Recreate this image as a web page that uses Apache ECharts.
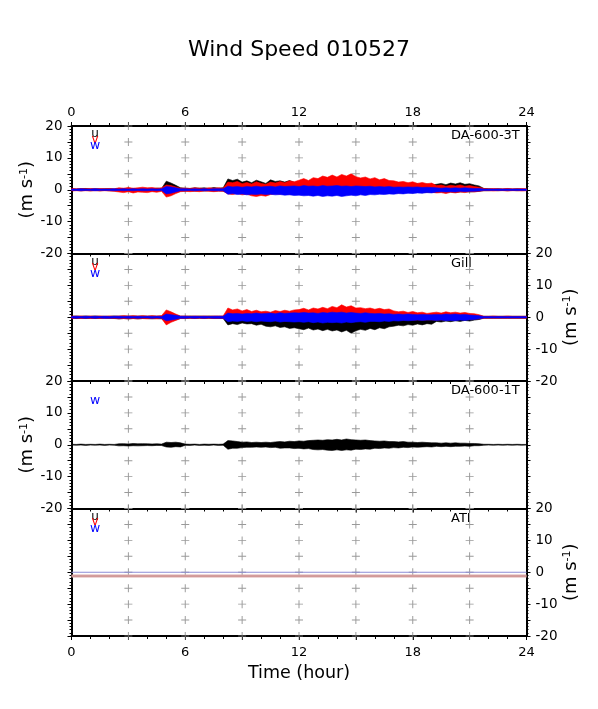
<!DOCTYPE html>
<html><head><meta charset="utf-8">
<script src="https://cdn.jsdelivr.net/npm/echarts@6/dist/echarts.min.js"></script>
<style>html,body{margin:0;padding:0;background:#fff}#c{width:598px;height:709px}</style>
</head><body><div id="c"></div>
<script>
const FONT = 'DejaVu Sans';
const TITLE = 'Wind Speed 010527';
const X_NAME = 'Time (hour)';
const PANEL_NAMES = ['DA-600-3T', 'Gill', 'DA-600-1T', 'ATI'];
const SAMPLE_STEP = 0.25; // hours between envelope samples (0..24)

// Panel 1: DA-600-3T  (upper / lower envelopes, m/s)
const u1Hi = [0.3,0.2,0.3,0.4,0.2,0.3,0.2,0.3, 0.3,0.2,0.4,0.3,0.5,0.3,0.4,0.3, 0.4,0.3,0.5,0.4,2.7,2.1,1.4,0.6, 0.5,0.4,0.6,0.5,0.6,0.4,0.7,0.5,
 0.6,3.4,2.9,3.3,2.4,2.8,2.2,3.0, 2.5,2.0,3.1,2.6,2.8,2.4,2.9,2.3, 2.4,2.7,2.2,2.9,2.5,3.0,2.6,3.2, 2.8,3.3,2.7,3.0,2.5,2.8,2.4,2.6,
 2.3,2.5,2.1,2.3,1.9,2.2,1.8,2.0, 1.7,1.9,1.6,1.8,1.5,1.7,2.0,1.6, 2.1,1.8,2.2,1.7,1.9,1.5,1.2,0.4, 0.3,0.2,0.3,0.2,0.3,0.2,0.3,0.2, 0.2];
const u1Lo = [-0.3,-0.2,-0.3,-0.2,-0.3,-0.2,-0.3,-0.2, -0.3,-0.3,-0.4,-0.3,-0.4,-0.3,-0.4,-0.3, -0.4,-0.3,-0.4,-0.3,-1.2,-1.0,-0.8,-0.4, -0.4,-0.3,-0.4,-0.3,-0.4,-0.3,-0.4,-0.3,
 -0.4,-1.0,-0.9,-1.1,-0.8,-1.0,-0.9,-1.1, -1.0,-1.2,-0.9,-1.1,-1.0,-1.2,-1.1,-1.0, -1.2,-1.1,-1.3,-1.0,-1.2,-1.1,-1.3,-1.2, -1.1,-1.3,-1.2,-1.0,-1.2,-1.1,-1.0,-1.2,
 -1.0,-1.1,-0.9,-1.0,-0.9,-1.0,-0.8,-0.9, -0.9,-0.8,-0.9,-0.8,-0.7,-0.8,-0.7,-0.8, -0.7,-0.8,-0.7,-0.6,-0.7,-0.6,-0.5,-0.3, -0.3,-0.2,-0.3,-0.2,-0.3,-0.2,-0.3,-0.2, -0.2];
const v1Hi = [0.4,0.3,0.4,0.3,0.4,0.3,0.4,0.3, 0.4,0.3,0.6,0.5,0.7,0.5,0.6,0.8, 0.6,0.7,0.5,0.6,1.5,1.3,0.9,0.5, 0.5,0.4,0.6,0.5,0.4,0.6,0.5,0.6,
 0.5,2.4,2.2,2.6,1.9,2.3,1.8,2.5, 2.0,1.7,2.4,2.1,2.6,2.2,2.8,2.5, 3.0,3.5,2.9,3.8,3.5,4.3,3.9,4.6, 4.0,4.8,4.3,5.0,4.1,3.7,4.0,3.4,
 3.8,3.1,3.5,2.9,2.8,2.4,2.6,2.2, 2.5,2.0,2.3,1.9,2.1,1.3,1.5,1.1, 1.4,1.2,1.5,1.1,1.3,1.0,0.8,0.4, 0.3,0.4,0.3,0.3,0.4,0.3,0.3,0.4, 0.3];
const v1Lo = [-0.4,-0.3,-0.4,-0.3,-0.4,-0.3,-0.4,-0.3, -0.4,-0.5,-0.7,-0.9,-0.6,-1.0,-0.7,-0.8, -0.9,-0.6,-0.8,-0.5,-2.3,-1.9,-1.2,-0.6, -0.5,-0.6,-0.5,-0.6,-0.4,-0.5,-0.6,-0.5,
 -0.5,-1.3,-1.5,-1.2,-1.6,-1.4,-1.9,-2.1, -1.8,-2.0,-1.5,-1.3,-1.4,-1.2,-1.5,-1.3, -1.4,-1.3,-1.5,-1.2,-1.4,-1.3,-1.5,-1.4, -1.3,-1.5,-1.2,-1.4,-1.3,-1.2,-1.4,-1.1,
 -1.2,-1.0,-1.1,-1.0,-0.9,-1.0,-0.9,-0.8, -0.9,-0.8,-0.9,-0.7,-0.8,-1.0,-0.9,-1.2, -0.8,-1.0,-0.7,-0.9,-0.6,-0.7,-0.5,-0.3, -0.3,-0.4,-0.3,-0.3,-0.4,-0.3,-0.3,-0.4, -0.3];
const w1Hi = [0.2,0.2,0.3,0.2,0.2,0.3,0.2,0.2, 0.2,0.3,0.2,0.3,0.2,0.3,0.2,0.3, 0.2,0.3,0.2,0.3,1.0,0.9,0.6,0.3, 0.3,0.2,0.3,0.2,0.3,0.2,0.3,0.3,
 0.3,1.1,0.9,1.0,0.8,1.0,0.9,1.1, 0.9,1.0,1.1,0.9,1.2,1.0,1.1,1.2, 1.0,1.3,1.1,1.2,1.0,1.3,1.1,1.2, 1.3,1.1,1.2,1.0,1.2,1.1,1.0,1.1,
 0.9,1.0,0.9,1.0,0.8,0.9,0.8,0.9, 0.8,0.9,0.7,0.8,0.7,0.6,0.5,0.6, 0.5,0.6,0.5,0.6,0.5,0.4,0.4,0.2, 0.2,0.2,0.2,0.2,0.2,0.2,0.2,0.2, 0.2];
const w1Lo = [-0.2,-0.2,-0.3,-0.2,-0.2,-0.3,-0.2,-0.2, -0.2,-0.3,-0.2,-0.3,-0.2,-0.3,-0.2,-0.3, -0.3,-0.2,-0.3,-0.2,-1.3,-1.1,-0.7,-0.3, -0.3,-0.2,-0.3,-0.2,-0.3,-0.2,-0.3,-0.3,
 -0.3,-1.4,-1.2,-1.5,-1.3,-1.6,-1.4,-1.5, -1.3,-1.5,-1.4,-1.6,-1.5,-1.7,-1.6,-1.8, -1.7,-1.9,-1.8,-2.0,-1.8,-2.1,-1.9,-2.0, -1.8,-2.1,-1.9,-1.7,-1.9,-1.6,-1.8,-1.5,
 -1.6,-1.4,-1.5,-1.3,-1.4,-1.2,-1.3,-1.1, -1.2,-1.0,-1.1,-0.9,-1.0,-0.7,-0.6,-0.7, -0.6,-0.7,-0.5,-0.6,-0.5,-0.5,-0.4,-0.2, -0.2,-0.2,-0.2,-0.2,-0.2,-0.2,-0.2,-0.2, -0.2];

// Panel 2: Gill
const u2Hi = [0.3,0.4,0.3,0.4,0.3,0.4,0.3,0.3, 0.3,0.4,0.3,0.4,0.3,0.4,0.3,0.4, 0.3,0.4,0.3,0.4,1.0,0.8,0.6,0.3, 0.3,0.4,0.3,0.4,0.3,0.4,0.3,0.3,
 0.3,1.0,0.8,0.9,0.7,0.8,0.7,0.9, 0.8,0.7,0.9,0.8,0.7,0.8,0.9,0.7, 0.8,0.9,0.7,0.8,0.9,0.8,0.7,0.9, 0.8,0.9,0.8,0.7,0.8,0.9,0.7,0.8,
 0.7,0.8,0.7,0.8,0.6,0.7,0.6,0.7, 0.7,0.8,0.6,0.7,0.6,0.6,0.5,0.6, 0.5,0.6,0.5,0.5,0.4,0.4,0.4,0.3, 0.3,0.3,0.3,0.3,0.3,0.3,0.3,0.3, 0.3];
const u2Lo = [-0.3,-0.4,-0.3,-0.4,-0.3,-0.4,-0.3,-0.3, -0.3,-0.4,-0.5,-0.4,-0.5,-0.4,-0.5,-0.4, -0.4,-0.5,-0.4,-0.5,-1.5,-1.0,-0.8,-0.4, -0.4,-0.3,-0.4,-0.3,-0.4,-0.3,-0.4,-0.4,
 -0.4,-2.4,-2.0,-2.3,-1.8,-2.1,-2.0,-2.5, -2.2,-2.8,-3.0,-2.7,-3.2,-3.0,-3.5,-3.3, -3.6,-3.9,-3.4,-4.0,-3.7,-4.2,-3.8,-4.3, -4.0,-4.6,-4.1,-5.0,-4.2,-3.8,-4.1,-3.5,
 -3.9,-3.3,-3.6,-3.0,-2.8,-2.5,-2.7,-2.3, -2.5,-2.1,-2.4,-2.0,-2.2,-1.3,-1.5,-1.2, -1.4,-1.1,-1.3,-1.0,-1.2,-0.9,-0.7,-0.3, -0.3,-0.3,-0.3,-0.3,-0.3,-0.3,-0.3,-0.3, -0.3];
const v2Hi = [0.4,0.3,0.4,0.3,0.4,0.3,0.4,0.3, 0.4,0.3,0.4,0.5,0.4,0.5,0.4,0.5, 0.4,0.5,0.4,0.5,2.3,1.7,1.0,0.4, 0.4,0.3,0.4,0.3,0.4,0.3,0.4,0.4,
 0.4,2.9,2.3,2.6,2.0,2.4,1.8,2.2, 1.7,1.9,1.6,2.1,1.8,2.2,1.9,2.3, 2.4,2.8,2.3,2.9,2.6,3.1,2.7,3.4, 3.0,3.9,3.2,3.6,2.9,3.0,2.7,2.9,
 2.5,2.8,2.4,2.6,2.0,1.7,1.9,1.5, 1.8,1.4,1.6,1.2,1.4,1.6,1.3,1.7, 1.4,1.6,1.3,1.5,1.2,1.1,0.8,0.3, 0.3,0.4,0.3,0.3,0.4,0.3,0.3,0.3, 0.3];
const v2Lo = [-0.4,-0.3,-0.4,-0.3,-0.4,-0.3,-0.4,-0.3, -0.4,-0.3,-0.5,-0.4,-0.5,-0.4,-0.5,-0.4, -0.5,-0.4,-0.5,-0.4,-2.4,-1.6,-1.0,-0.4, -0.4,-0.3,-0.4,-0.3,-0.4,-0.3,-0.4,-0.4,
 -0.4,-1.0,-0.9,-1.1,-0.9,-1.0,-0.9,-1.0, -1.1,-1.0,-0.9,-1.1,-1.0,-1.2,-1.0,-1.1, -1.2,-1.1,-1.0,-1.2,-1.1,-1.3,-1.1,-1.2, -1.1,-1.3,-1.2,-1.1,-1.2,-1.0,-1.1,-1.0,
 -1.0,-0.9,-1.0,-0.9,-0.9,-0.8,-0.9,-0.8, -0.9,-0.8,-0.9,-0.8,-0.8,-0.9,-0.8,-0.9, -0.8,-0.9,-0.7,-0.8,-0.6,-0.6,-0.5,-0.3, -0.3,-0.3,-0.3,-0.3,-0.3,-0.3,-0.3,-0.3, -0.3];
const w2Hi = [0.2,0.3,0.2,0.3,0.2,0.3,0.2,0.3, 0.2,0.3,0.3,0.2,0.3,0.2,0.3,0.2, 0.3,0.2,0.3,0.2,1.0,0.8,0.6,0.3, 0.3,0.2,0.3,0.2,0.3,0.2,0.3,0.3,
 0.3,1.3,1.1,1.2,1.0,1.2,1.1,1.3, 1.1,1.2,1.3,1.1,1.4,1.2,1.3,1.4, 1.3,1.5,1.3,1.4,1.2,1.5,1.3,1.6, 1.4,1.6,1.3,1.5,1.3,1.2,1.4,1.2,
 1.1,1.2,1.0,1.1,0.9,1.0,0.9,1.0, 0.9,0.8,0.9,0.8,0.8,0.9,0.8,1.0, 0.9,1.0,0.8,0.9,0.7,0.6,0.5,0.2, 0.2,0.2,0.2,0.2,0.2,0.2,0.2,0.2, 0.2];
const w2Lo = [-0.2,-0.3,-0.2,-0.3,-0.2,-0.3,-0.2,-0.3, -0.3,-0.2,-0.3,-0.2,-0.3,-0.2,-0.3,-0.2, -0.2,-0.3,-0.2,-0.3,-1.1,-0.9,-0.6,-0.3, -0.3,-0.2,-0.3,-0.2,-0.3,-0.2,-0.3,-0.3,
 -0.3,-1.4,-1.2,-1.3,-1.1,-1.3,-1.2,-1.4, -1.2,-1.3,-1.4,-1.2,-1.5,-1.3,-1.4,-1.5, -1.4,-1.6,-1.4,-1.7,-1.5,-1.8,-1.6,-1.7, -1.6,-1.8,-1.5,-1.7,-1.5,-1.4,-1.6,-1.3,
 -1.3,-1.4,-1.2,-1.3,-1.1,-1.2,-1.0,-1.1, -1.0,-0.9,-1.0,-0.9,-0.9,-1.0,-0.9,-1.1, -1.0,-1.1,-0.9,-1.0,-0.8,-0.7,-0.5,-0.2, -0.2,-0.2,-0.2,-0.2,-0.2,-0.2,-0.2,-0.2, -0.2];

// Panel 3: DA-600-1T
const u3Hi = [0.15,0.1,0.2,0.1,0.15,0.1,0.2,0.1, 0.15,0.1,0.3,0.35,0.25,0.4,0.3,0.35, 0.3,0.25,0.3,0.2,0.8,0.7,0.8,0.6, 0.2,0.15,0.2,0.1,0.2,0.15,0.2,0.15,
 0.2,1.3,1.2,1.0,0.8,0.9,0.7,0.8, 0.7,0.8,0.7,0.9,1.0,0.9,1.1,1.0, 1.2,1.1,1.3,1.4,1.5,1.4,1.6,1.5, 1.7,1.5,1.8,1.6,1.5,1.4,1.5,1.3,
 1.2,1.1,1.2,1.0,1.0,0.9,1.0,0.8, 0.8,0.7,0.8,0.7,0.6,0.6,0.5,0.6, 0.5,0.6,0.5,0.5,0.4,0.4,0.3,0.15, 0.15,0.1,0.15,0.1,0.15,0.1,0.15,0.1, 0.1];
const u3Lo = [-0.1,-0.15,-0.1,-0.2,-0.1,-0.15,-0.1,-0.2, -0.1,-0.15,-0.35,-0.3,-0.4,-0.3,-0.35,-0.3, -0.25,-0.3,-0.2,-0.25,-0.7,-0.8,-0.6,-0.7, -0.15,-0.2,-0.1,-0.2,-0.15,-0.2,-0.1,-0.2,
 -0.15,-1.4,-1.1,-1.1,-0.9,-0.8,-0.8,-0.7, -0.8,-0.7,-0.9,-0.8,-1.1,-1.0,-1.0,-1.2, -1.1,-1.3,-1.2,-1.5,-1.6,-1.5,-1.7,-1.8, -1.6,-1.8,-1.6,-1.7,-1.4,-1.5,-1.3,-1.4,
 -1.1,-1.2,-1.0,-1.1,-0.9,-1.0,-0.8,-0.9, -0.7,-0.8,-0.7,-0.6,-0.7,-0.5,-0.6,-0.5, -0.6,-0.5,-0.5,-0.4,-0.5,-0.3,-0.3,-0.15, -0.1,-0.15,-0.1,-0.15,-0.1,-0.15,-0.1,-0.15, -0.1];

// Panel 4: ATI (flat traces)
const v4 = -1.2;
const w4 = 0.0;

const hours = u1Hi.map((_, i) => i * SAMPLE_STEP);

const TOPS = [126, 253.5, 381, 508.5];
const H = 127.5;
const LEFT = 71.5, RIGHT = 71.5;

const grids = TOPS.map(t => ({ left: LEFT, right: RIGHT, top: t, height: H }));

function xAx(gi, pos, showLabel) {
  return {
    type: 'value', gridIndex: gi, position: pos, min: 0, max: 24, interval: 3,
    axisLine: { onZero: false, lineStyle: { color: '#000', width: 2 } },
    axisTick: { show: true, length: 4, lineStyle: { color: '#000', width: 1 } },
    minorTick: { show: true, splitNumber: 3, length: 3, lineStyle: { color: '#000', width: 1 } },
    splitLine: { show: false }, minorSplitLine: { show: false },
    axisLabel: { show: showLabel, margin: pos === 'top' ? 7 : 10, fontSize: 13, fontFamily: FONT, color: '#000',
      formatter: v => (v % 6 === 0 ? String(v) : '') }
  };
}
function yAx(gi, pos, showLabel) {
  return {
    type: 'value', gridIndex: gi, position: pos, min: -20, max: 20, interval: 5,
    axisLine: { onZero: false, lineStyle: { color: '#000', width: 2 } },
    axisTick: { show: true, length: 4, lineStyle: { color: '#000', width: 1 } },
    minorTick: { show: true, splitNumber: 5, length: 2, lineStyle: { color: '#000', width: 1 } },
    splitLine: { show: false }, minorSplitLine: { show: false },
    axisLabel: { show: showLabel, margin: 9, fontSize: 13.5, fontFamily: FONT, color: '#000',
      showMinLabel: true, showMaxLabel: true,
      formatter: v => (v % 10 === 0 ? String(v) : '') }
  };
}

const xAxes = [xAx(0, 'bottom', false), xAx(1, 'bottom', false), xAx(2, 'bottom', false), xAx(3, 'bottom', true), xAx(0, 'top', true)];
const yAxes = [yAx(0, 'left', true), yAx(1, 'left', false), yAx(2, 'left', true), yAx(3, 'left', false),
               yAx(0, 'right', false), yAx(1, 'right', true), yAx(2, 'right', false), yAx(3, 'right', true)];

function band(gi, hi, lo, color) {
  return {
    type: 'custom', xAxisIndex: gi, yAxisIndex: gi, clip: true, z: 3, silent: true,
    data: [[0, 0]],
    renderItem: function (params, api) {
      const pts = [];
      for (let i = 0; i < hours.length; i++) pts.push(api.coord([hours[i], hi[i]]));
      for (let i = hours.length - 1; i >= 0; i--) pts.push(api.coord([hours[i], lo[i]]));
      return { type: 'polygon', shape: { points: pts }, style: { fill: color, stroke: color, lineWidth: 0.6 } };
    }
  };
}

function crosses(gi) {
  const pts = [];
  for (let x = 3; x <= 21; x += 3) for (let y = -20; y <= 20; y += 5) pts.push([x, y]);
  return {
    type: 'scatter', xAxisIndex: gi, yAxisIndex: gi, z: 1, silent: true, data: pts,
    symbol: 'path://M4.4,0H5.6V10H4.4ZM0,4.4H10V5.6H0Z', symbolSize: 8,
    itemStyle: { color: '#808080' }
  };
}

function flat(gi, val, color, width) {
  return {
    type: 'line', xAxisIndex: gi, yAxisIndex: gi, z: 3, silent: true, symbol: 'none',
    data: [[0, val], [24, val]], lineStyle: { color: color, width: width }
  };
}

const series = [
  crosses(0), crosses(1), crosses(2), crosses(3),
  band(0, u1Hi, u1Lo, '#000000'), band(0, v1Hi, v1Lo, '#ff0000'), band(0, w1Hi, w1Lo, '#0000ff'),
  band(1, u2Hi, u2Lo, '#000000'), band(1, v2Hi, v2Lo, '#ff0000'), band(1, w2Hi, w2Lo, '#0000ff'),
  band(2, u3Hi, u3Lo, '#000000'),
  flat(3, v4, '#dcaaaa', 3), flat(3, v4, '#c98d8d', 1), flat(3, w4, '#8c8cd6', 1)
];

const graphics = [];
function txt(x, y, text, size, color, align) {
  graphics.push({ type: 'text', x: x, y: y, silent: true,
    style: { text: text, fontSize: size, fontFamily: FONT, fill: color, align: align || 'center', verticalAlign: 'middle' } });
}
txt(299, 50, TITLE, 22, '#000');
txt(299, 673, X_NAME, 17.5, '#000');
TOPS.forEach((t, i) => {
  txt(451, t + 10, PANEL_NAMES[i], 13, '#000', 'left');
  if (i !== 2) {
    txt(95, t + 8, 'u', 12, '#000');
    txt(95, t + 13.5, 'v', 12, '#ff0000');
  }
  txt(95, t + 20, 'w', 12.5, '#0000ff');
});
function yName(x, y) {
  graphics.push({ type: 'text', x: x, y: y, rotation: Math.PI / 2, silent: true,
    style: { text: '(m s{sup|-1})', fontSize: 18, fontFamily: FONT, fill: '#000', align: 'center', verticalAlign: 'middle',
      rich: { sup: { fontSize: 11, fontFamily: FONT, fill: '#000', verticalAlign: 'top' } } } });
}
yName(27.5, TOPS[0] + H / 2);
yName(27.5, TOPS[2] + H / 2);
yName(571, TOPS[1] + H / 2);
yName(571, TOPS[3] + H / 2);

const chart = echarts.init(document.getElementById('c'), null, { renderer: 'canvas' });
chart.setOption({
  backgroundColor: '#fff', animation: false,
  grid: grids, xAxis: xAxes, yAxis: yAxes, series: series, graphic: graphics
});
</script></body></html>
